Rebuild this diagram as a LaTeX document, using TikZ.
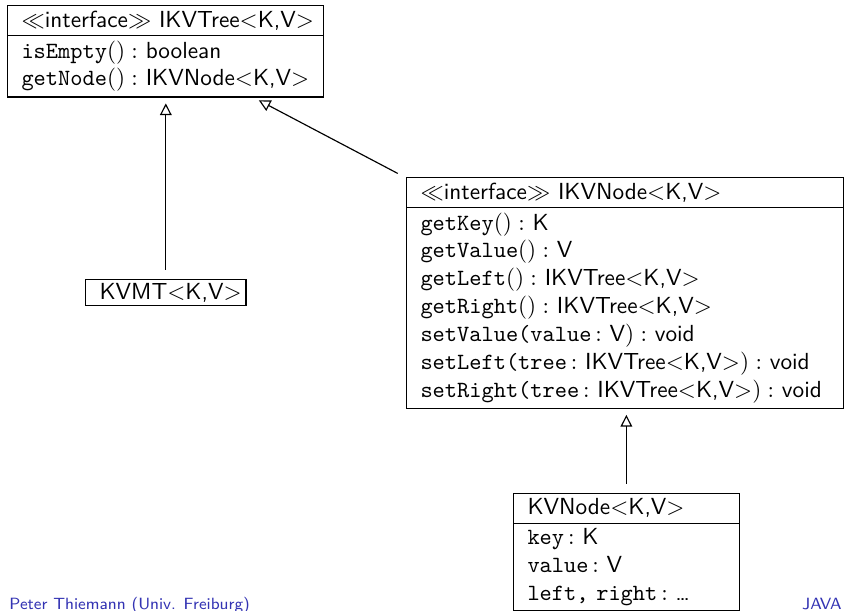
\documentclass[tikz,border=0pt]{standalone}
\usepackage{xcolor}
\usepackage{tikz}
\usetikzlibrary{positioning,arrows.meta,shapes.multipart}
\definecolor{footblue}{HTML}{3333B3}

\begin{document}
\begin{tikzpicture}[
    x=0.43pt, y=-0.43pt,
    every node/.style={font=\sffamily, align=left},
    cls/.style={draw, line width=0.5pt, rectangle split, rectangle split parts=2,
                inner xsep=6pt, inner ysep=2pt, anchor=north west},          % classe
    plain/.style={draw, line width=0.5pt, inner xsep=6pt, inner ysep=1.5pt,
                anchor=north west},                                          % classe vide
    inh/.style={-{Triangle[open, length=5pt, width=5pt]}, line width=0.5pt,
                shorten >=2.5pt, shorten <=4pt},                             % heritage
    foot/.style={font=\sffamily\scriptsize, text=footblue, inner sep=0pt}
  ]
  \useasboundingbox (0,0) rectangle (845,610);

  % ============ les interfaces ==========================================
  \node[cls, text width=124pt] (ikvtree) at (7,5)
    {\mbox{$\ll$interface$\gg$ IKVTree<K,V>}
     \nodepart{second}\texttt{isEmpty}$() :$ boolean\\
     \texttt{getNode}$() :$ IKVNode<K,V>};

  \node[cls, text width=176pt] (ikvnode) at (406,177)
    {\mbox{$\ll$interface$\gg$ IKVNode<K,V>}
     \nodepart{second}\texttt{getKey}$() :$ K\\
     \texttt{getValue}$() :$ V\\
     \texttt{getLeft}$() :$ IKVTree<K,V>\\
     \texttt{getRight}$() :$ IKVTree<K,V>\\
     \texttt{setValue(value}$\,:$ V$) :$ void\\
     \texttt{setLeft(tree}$\,:$ IKVTree<K,V>$) :$ void\\
     \texttt{setRight(tree}$\,:$ IKVTree<K,V>$) :$ void};

  % ============ les classes =============================================
  \node[plain, text width=57pt] (kvmt) at (85,279) {KVMT<K,V>};

  \node[cls, text width=85pt] (kvnode) at (513,493)
    {KVNode<K,V>
     \nodepart{second}\texttt{key}$\,:$ K\\
     \texttt{value}$\,:$ V\\
     \texttt{left, right}$\,:$ \dots};

  % ============ heritage ================================================
  \draw[inh] (kvmt) -- (kvmt |- ikvtree.south);
  \draw[inh] (ikvnode) -- (ikvtree);
  \draw[inh] (kvnode) -- (kvnode |- ikvnode.south);

  % pied de page, coupe en bas
  \node[foot, anchor=base west] (author) at (9,609) {Peter Thiemann (Univ. Freiburg)};
  \node[foot, anchor=base east] (topic) at (842,609) {JAVA};

\end{tikzpicture}
\end{document}
